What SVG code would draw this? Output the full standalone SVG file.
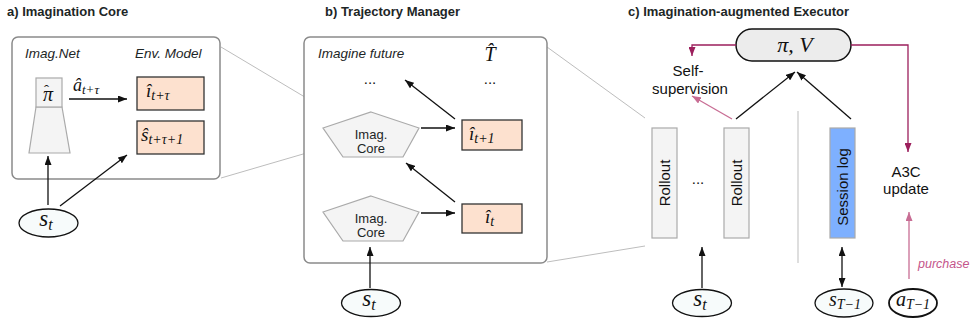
<svg xmlns="http://www.w3.org/2000/svg" width="970" height="324" viewBox="0 0 970 324">
<style>
.title{font-family:"Liberation Sans",Arial,sans-serif;font-weight:bold;font-size:13px;fill:#1d2626}
.lab{font-family:"Liberation Sans",Arial,sans-serif;font-size:15px;fill:#111}
.ital{font-family:"Liberation Sans",Arial,sans-serif;font-style:italic;font-size:13.5px;fill:#1d2626}
.core{font-family:"Liberation Sans",Arial,sans-serif;font-size:13px;fill:#1d2626;text-anchor:middle}
.math{font-family:"Liberation Serif","Times New Roman",serif;font-style:italic;fill:#111}
.panel{fill:#fff;stroke:#8a8a8a;stroke-width:1.5}
.orange{fill:#fde1cf;stroke:#333;stroke-width:1.3}
.grey{fill:#f4f4f4;stroke:#aaa;stroke-width:1.2}
.guide{stroke:#bdbdbd;stroke-width:1;fill:none}
.ell{fill:#f7fbfb;stroke:#111;stroke-width:1.3}
.blk{stroke:#111;stroke-width:1.3;fill:none;marker-end:url(#ab)}
.mag{stroke:#9c1f5c;stroke-width:1.3;fill:none;marker-end:url(#am)}
.pink{stroke:#c86d94;stroke-width:1.3;fill:none;marker-end:url(#ap)}
</style>
<defs>
<marker id="ab" markerUnits="userSpaceOnUse" markerWidth="9" markerHeight="7" refX="9" refY="3.5" orient="auto-start-reverse"><path d="M0,0 L9,3.5 L0,7 z" fill="#111"/></marker>
<marker id="am" markerUnits="userSpaceOnUse" markerWidth="9" markerHeight="7" refX="9" refY="3.5" orient="auto"><path d="M0,0 L9,3.5 L0,7 z" fill="#9c1f5c"/></marker>
<marker id="ap" markerUnits="userSpaceOnUse" markerWidth="9" markerHeight="7" refX="9" refY="3.5" orient="auto"><path d="M0,0 L9,3.5 L0,7 z" fill="#c86d94"/></marker>
</defs>

<text class="title" x="7" y="16">a) Imagination Core</text>
<text class="title" x="325" y="16">b) Trajectory Manager</text>
<text class="title" x="628" y="16">c) Imagination-augmented Executor</text>

<g id="guides">
<line class="guide" x1="221" y1="47" x2="345" y2="121"/>
<line class="guide" x1="221" y1="178" x2="334" y2="145"/>
<line class="guide" x1="547" y1="47" x2="645" y2="118"/>
<line class="guide" x1="547" y1="262" x2="645" y2="246"/>
<line class="guide" x1="798" y1="111" x2="798" y2="263"/>
</g>

<g id="panel-a">
<rect class="panel" x="12" y="37" width="208" height="142" rx="6"/>
<text class="ital" x="25" y="58">Imag.Net</text>
<text class="ital" x="135" y="58">Env. Model</text>
</g>
<g id="imag-net">
<polygon class="grey" points="36,107 62,107 70,153 29,153"/>
<rect class="grey" x="36" y="78" width="26" height="29"/>
<text class="math" x="43" y="101" font-size="20">π<tspan font-size="15" font-style="normal" dx="-9" dy="-6">ˆ</tspan></text>
</g>
<g id="i-hat-tau">
<rect class="orange" x="137" y="77" width="67" height="33"/>
<text class="math" x="146" y="97" font-size="19">î<tspan font-size="14" dy="3">t+τ</tspan></text>
</g>
<g id="s-hat">
<rect class="orange" x="137" y="121" width="67" height="33"/>
<text class="math" x="141" y="141" font-size="19">ŝ<tspan font-size="14" dy="3">t+τ+1</tspan></text>
</g>
<g id="st-a">
<ellipse class="ell" cx="48.5" cy="223" rx="29.5" ry="14"/>
<text class="math" x="46" y="226" font-size="23" text-anchor="middle">s<tspan font-size="16" dy="4">t</tspan></text>
</g>
<text class="math" x="73" y="91" font-size="18">â<tspan font-size="13" dy="3">t+τ</tspan></text>

<g id="panel-b">
<rect class="panel" x="304" y="37" width="243" height="226" rx="6"/>
<text class="ital" x="318" y="58">Imagine future</text>
<text class="math" x="490" y="61" font-size="20" text-anchor="middle">T̂</text>
<text class="lab" x="370" y="84" text-anchor="middle">...</text>
<text class="lab" x="490" y="84" text-anchor="middle">...</text>
</g>
<g id="core-1">
<polygon class="grey" points="371,112 419,128 403,157 343,157 323,128"/>
<text class="core" x="371" y="139">Imag.</text>
<text class="core" x="371" y="153">Core</text>
</g>
<g id="core-2">
<polygon class="grey" points="371,196 419,212 403,241 343,241 323,212"/>
<text class="core" x="371" y="223">Imag.</text>
<text class="core" x="371" y="237">Core</text>
</g>
<g id="i-t1">
<rect class="orange" x="462" y="120" width="60" height="30"/>
<text class="math" x="469" y="140" font-size="19">î<tspan font-size="14" dy="3">t+1</tspan></text>
</g>
<g id="i-t">
<rect class="orange" x="462" y="204" width="60" height="29"/>
<text class="math" x="485" y="223" font-size="19">î<tspan font-size="14" dy="3">t</tspan></text>
</g>
<g id="st-b">
<ellipse class="ell" cx="371" cy="303" rx="29.5" ry="13.5"/>
<text class="math" x="369" y="306" font-size="23" text-anchor="middle">s<tspan font-size="16" dy="4">t</tspan></text>
</g>

<g id="policy">
<rect x="736" y="29" width="115" height="32" rx="16" fill="#ececec" stroke="#111" stroke-width="1.5"/>
<text class="math" x="795" y="52" font-size="22" text-anchor="middle">π, V</text>
</g>
<g id="self-sup">
<text class="lab" x="688" y="76" text-anchor="middle">Self-</text>
<text class="lab" x="690" y="94" text-anchor="middle">supervision</text>
</g>
<g id="a3c">
<text class="lab" x="906" y="177" text-anchor="middle">A3C</text>
<text class="lab" x="906" y="194" text-anchor="middle">update</text>
</g>
<g id="rollout-1">
<rect class="grey" x="652" y="128" width="25" height="110"/>
<text class="lab" transform="translate(664.5 183) rotate(-90)" text-anchor="middle" dy="5.5">Rollout</text>
</g>
<text class="lab" x="698" y="184" text-anchor="middle">...</text>
<g id="rollout-2">
<rect class="grey" x="724" y="128" width="25" height="110"/>
<text class="lab" transform="translate(736.5 183) rotate(-90)" text-anchor="middle" dy="5.5">Rollout</text>
</g>
<g id="session-log">
<rect x="830" y="128" width="25" height="110" fill="#7eb0ff" stroke="#aaa" stroke-width="1.2"/>
<text class="lab" transform="translate(842.5 187) rotate(-90)" text-anchor="middle" dy="5.5">Session log</text>
</g>
<g id="st-c">
<ellipse class="ell" cx="702" cy="303" rx="29.5" ry="13.5"/>
<text class="math" x="700" y="306" font-size="23" text-anchor="middle">s<tspan font-size="16" dy="4">t</tspan></text>
</g>
<g id="sT1">
<ellipse class="ell" cx="844" cy="303" rx="29" ry="14"/>
<text class="math" x="845" y="306" font-size="20" text-anchor="middle">s<tspan font-size="14" dy="3">T−1</tspan></text>
</g>
<g id="aT1">
<ellipse cx="913" cy="303" rx="24" ry="14" fill="#fff" stroke="#111" stroke-width="1.8"/>
<text class="math" x="913" y="306" font-size="20" text-anchor="middle">a<tspan font-size="14" dy="3">T−1</tspan></text>
</g>
<text x="918" y="268" font-family="Liberation Sans,Arial,sans-serif" font-style="italic" font-size="12.5" fill="#c4548a">purchase</text>

<g id="connectors">
<line class="blk" x1="69" y1="99" x2="127" y2="99"/>
<line class="blk" x1="48" y1="205" x2="48" y2="156"/>
<line class="blk" x1="60" y1="206" x2="127" y2="155"/>
<line class="blk" x1="421" y1="128" x2="455" y2="128"/>
<line class="blk" x1="421" y1="213" x2="455" y2="213"/>
<line class="blk" x1="455" y1="119" x2="405" y2="80"/>
<line class="blk" x1="455" y1="202" x2="406" y2="163"/>
<line class="blk" x1="370" y1="288" x2="370" y2="247"/>
<line class="blk" x1="702" y1="288" x2="702" y2="247"/>
<line class="blk" x1="842" y1="247" x2="842" y2="287" marker-start="url(#ab)"/>
<line class="blk" x1="736" y1="119" x2="795" y2="72"/>
<line class="blk" x1="851" y1="119" x2="797" y2="72"/>
<line class="pink" x1="732" y1="119" x2="692" y2="96"/>
<line class="pink" x1="909" y1="279" x2="909" y2="212"/>
<polyline class="mag" points="736,45 692,45 692,56"/>
<polyline class="mag" points="851,45 908,45 908,152"/>
</g>
</svg>
